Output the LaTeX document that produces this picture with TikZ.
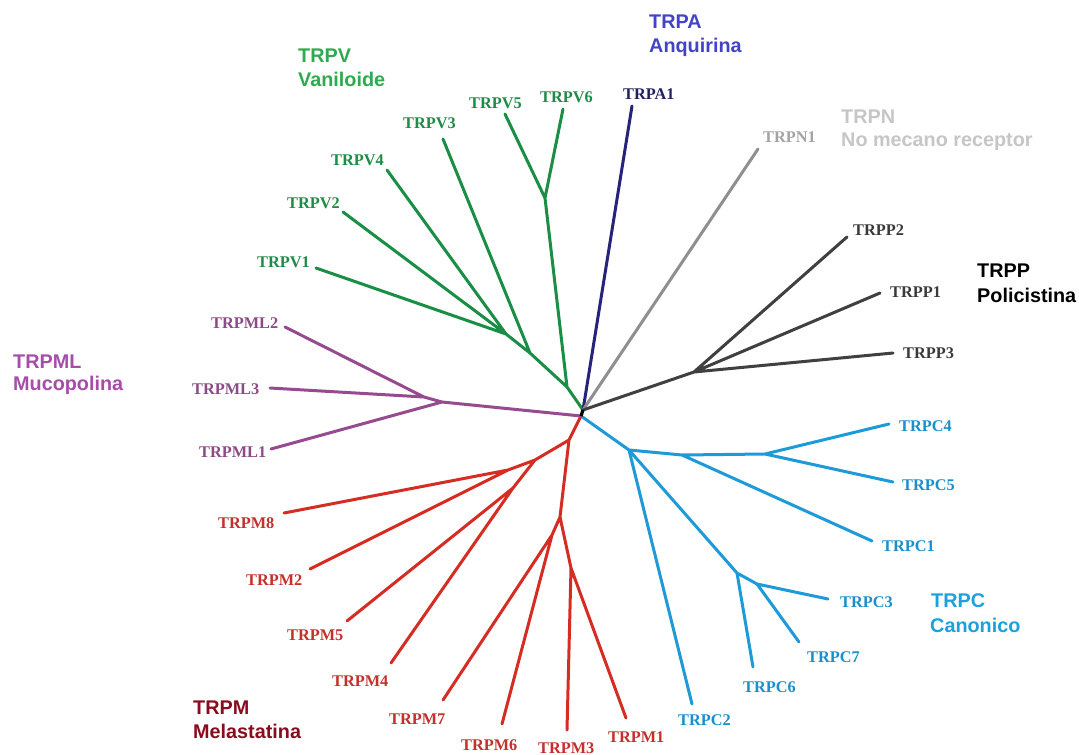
\documentclass[tikz,border=0pt]{standalone}
\usepackage{fontspec}
\setmainfont{Liberation Serif}
\newfontfamily\titlefont{Liberation Sans}
\definecolor{gV}{HTML}{1B8E46}
\definecolor{gVl}{HTML}{1F8B48}
\definecolor{gVt}{HTML}{2EAA4F}
\definecolor{nA}{HTML}{25237A}
\definecolor{nAl}{HTML}{23205E}
\definecolor{nAt}{HTML}{4343C9}
\definecolor{gN}{HTML}{8F8F8F}
\definecolor{gNl}{HTML}{A3A3A3}
\definecolor{gNt}{HTML}{C6C6C6}
\definecolor{kP}{HTML}{404040}
\definecolor{kPl}{HTML}{3A3A3A}
\definecolor{bC}{HTML}{1F9AD8}
\definecolor{bCl}{HTML}{1A8FCB}
\definecolor{bCt}{HTML}{1BA0E0}
\definecolor{rM}{HTML}{D52D24}
\definecolor{rMl}{HTML}{C4302B}
\definecolor{rMt}{HTML}{8A0B1D}
\definecolor{pL}{HTML}{974A90}
\definecolor{pLl}{HTML}{8C4A86}
\definecolor{pLt}{HTML}{A64DAA}
\tikzset{
  lab/.style={anchor=base west, inner sep=0pt, font=\fontsize{16.3}{18}\selectfont\bfseries},
  ttl/.style={anchor=base west, inner sep=0pt, font=\titlefont\fontsize{19.8}{22}\selectfont\bfseries},
  br/.style={line width=3pt, line cap=round, line join=round},
}
\begin{document}
\begin{tikzpicture}[x=1pt,y=-1pt]
\useasboundingbox[fill=white] (0,0) rectangle (1079,755);
% root
\coordinate (R1) at (583,410);
\coordinate (R2) at (581,416);
% TRPV
\coordinate (v1) at (316,268);
\coordinate (v2) at (343,212);
\coordinate (v4) at (387,170);
\coordinate (v3) at (443,139);
\coordinate (v5) at (505,114);
\coordinate (v6) at (563,109);
\coordinate (g1) at (506,334);
\coordinate (g2) at (530,353);
\coordinate (v56) at (545,198);
\coordinate (g3) at (567,387);
% TRPA, TRPN
\coordinate (a1) at (632,106);
\coordinate (n1) at (758,149);
% TRPP
\coordinate (pp2) at (847,237);
\coordinate (pp1) at (880,293);
\coordinate (pp3) at (893,353);
\coordinate (k1) at (694,372);
% TRPC
\coordinate (cA) at (629,450);
\coordinate (cB) at (682,455);
\coordinate (cC) at (765,454);
\coordinate (c4) at (889,424);
\coordinate (c5) at (893,482);
\coordinate (c1) at (872,541);
\coordinate (c2) at (692,704);
\coordinate (cD) at (737,573);
\coordinate (c6) at (753,667);
\coordinate (cE) at (757,584);
\coordinate (c3) at (828,599);
\coordinate (c7) at (799,642);
% TRPM
\coordinate (r1) at (569,440);
\coordinate (r2) at (535,460);
\coordinate (r3) at (508,470);
\coordinate (r4) at (513,488);
\coordinate (m8) at (284,513);
\coordinate (m2) at (310,569);
\coordinate (m5) at (347,621);
\coordinate (m4) at (391,663);
\coordinate (r5) at (560,517);
\coordinate (r6) at (552,535);
\coordinate (r7) at (571,568);
\coordinate (m7) at (443,700);
\coordinate (m6) at (502,724);
\coordinate (m3) at (567,730);
\coordinate (m1) at (626,718);
% TRPML
\coordinate (l2) at (285,327);
\coordinate (l3) at (270,388);
\coordinate (l1) at (271,449);
\coordinate (q2) at (424,397);
\coordinate (q1) at (442,402);

% branches
\draw[br, gV] (v1) -- (g1) (v2) -- (g1) (v4) -- (g1) -- (g2) (v3) -- (g2) -- (g3)
  (v5) -- (v56) (v6) -- (v56) -- (g3) -- (R1);
\draw[br, nA] (a1) -- (R1);
\draw[br, gN] (n1) -- (R1);
\draw[br, kP] (pp2) -- (k1) (pp1) -- (k1) (pp3) -- (k1) -- (R1);
\draw[br, bC] (R2) -- (cA) -- (cB) -- (cC) (c4) -- (cC) -- (c5) (cB) -- (c1)
  (cA) -- (c2) (cA) -- (cD) -- (c6) (cD) -- (cE) -- (c3) (cE) -- (c7);
\draw[br, rM] (R2) -- (r1) -- (r2) -- (r3) -- (m8) (r3) -- (m2) (r2) -- (r4) -- (m5) (r4) -- (m4)
  (r1) -- (r5) -- (r6) -- (m7) (r6) -- (m6) (r5) -- (r7) -- (m3) (r7) -- (m1);
\draw[br, pL] (l2) -- (q2) (l3) -- (q2) -- (q1) (l1) -- (q1) -- (R2);
\draw[line width=3.2pt, black] (R1) -- (R2);

% leaf labels
\node[lab, text=gVl] (tv6) at (540,102) {TRPV6};
\node[lab, text=gVl] (tv5) at (469,108) {TRPV5};
\node[lab, text=gVl] (tv3) at (403,128) {TRPV3};
\node[lab, text=gVl] (tv4) at (331,165) {TRPV4};
\node[lab, text=gVl] (tv2) at (287,208) {TRPV2};
\node[lab, text=gVl] (tv1) at (257,267) {TRPV1};
\node[lab, text=nAl] (ta1) at (623,99) {TRPA1};
\node[lab, text=gNl] (tn1) at (763,142) {TRPN1};
\node[lab, text=kPl] (tp2) at (853,235) {TRPP2};
\node[lab, text=kPl] (tp1) at (890,297) {TRPP1};
\node[lab, text=kPl] (tp3) at (903,358) {TRPP3};
\node[lab, text=bCl] (tc4) at (899,431) {TRPC4};
\node[lab, text=bCl] (tc5) at (902,490) {TRPC5};
\node[lab, text=bCl] (tc1) at (882,551) {TRPC1};
\node[lab, text=bCl] (tc3) at (840,607) {TRPC3};
\node[lab, text=bCl] (tc7) at (807,662) {TRPC7};
\node[lab, text=bCl] (tc6) at (743,692) {TRPC6};
\node[lab, text=bCl] (tc2) at (678,725) {TRPC2};
\node[lab, text=rMl] (tm1) at (608,742) {TRPM1};
\node[lab, text=rMl] (tm3) at (538,753) {TRPM3};
\node[lab, text=rMl] (tm6) at (461,750) {TRPM6};
\node[lab, text=rMl] (tm7) at (389,724) {TRPM7};
\node[lab, text=rMl] (tm4) at (332,686) {TRPM4};
\node[lab, text=rMl] (tm5) at (287,640) {TRPM5};
\node[lab, text=rMl] (tm2) at (246,585) {TRPM2};
\node[lab, text=rMl] (tm8) at (218,528) {TRPM8};
\node[lab, text=pLl] (tl1) at (199,457) {TRPML1};
\node[lab, text=pLl] (tl3) at (192,394) {TRPML3};
\node[lab, text=pLl] (tl2) at (211,328) {TRPML2};

% family titles
\node[ttl, text=gVt] (fV1) at (298,62) {TRPV};
\node[ttl, text=gVt] (fV2) at (298,86) {Vaniloide};
\node[ttl, text=nAt] (fA1) at (649,28) {TRPA};
\node[ttl, text=nAt] (fA2) at (649,52) {Anquirina};
\node[ttl, text=gNt] (fN1) at (841,123) {TRPN};
\node[ttl, text=gNt] (fN2) at (841,146) {No mecano receptor};
\node[ttl, text=black] (fP1) at (977,277) {TRPP};
\node[ttl, text=black] (fP2) at (977,302) {Policistina};
\node[ttl, text=bCt] (fC1) at (931,607) {TRPC};
\node[ttl, text=bCt] (fC2) at (930,632) {Canonico};
\node[ttl, text=rMt] (fM1) at (193,714) {TRPM};
\node[ttl, text=rMt] (fM2) at (193,738) {Melastatina};
\node[ttl, text=pLt] (fL1) at (13,368) {TRPML};
\node[ttl, text=pLt] (fL2) at (13,390) {Mucopolina};
\end{tikzpicture}
\end{document}
